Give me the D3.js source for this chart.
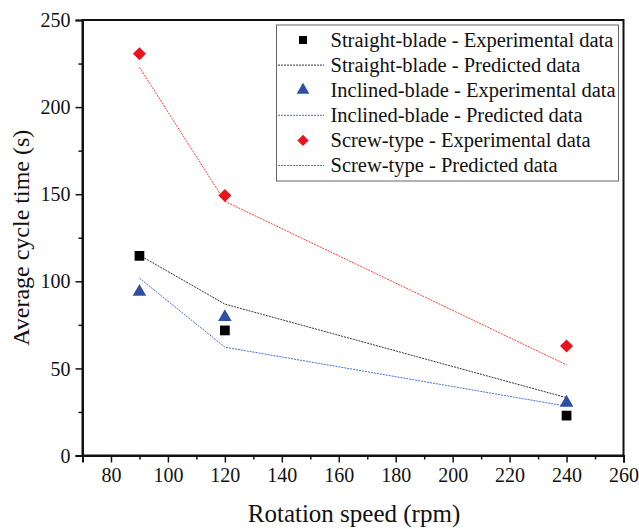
<!DOCTYPE html>
<html>
<head>
<meta charset="utf-8">
<script src="https://cdn.jsdelivr.net/npm/d3@7"></script>
</head>
<body style="margin:0">
<svg id="chart" width="639" height="529"></svg>
<script>
// Rotation speeds (rpm)
const speeds = [90, 120, 240];

// Average cycle time (s) per mixer type
const straightExp  = [114.6, 71.8, 22.9];
const straightPred = [115.0, 86.9, 33.2];
const inclinedExp  = [94.0, 79.4, 30.3];
const inclinedPred = [101.8, 62.2, 28.3];
const screwExp     = [230.6, 149.3, 62.8];
const screwPred    = [222.9, 145.9, 52.0];

// Axis ticks
const xTicks = [80, 100, 120, 140, 160, 180, 200, 220, 240, 260];
const xMinor = [70, 90, 110, 130, 150, 170, 190, 210, 230, 250];
const yTicks = [0, 50, 100, 150, 200, 250];
const yMinor = [25, 75, 125, 175, 225];

const legendLabels = [
  "Straight-blade - Experimental data",
  "Straight-blade - Predicted data",
  "Inclined-blade - Experimental data",
  "Inclined-blade - Predicted data",
  "Screw-type - Experimental data",
  "Screw-type - Predicted data"
];

const FONT = "\"Liberation Serif\", \"Times New Roman\", serif";
const INK = "#111";

const svg = d3.select("#chart");
const plotL = 82.5, plotR = 623.5, plotT = 20, plotB = 455.5;

const x = d3.scaleLinear().domain([70, 260]).range([plotL, plotR]);
const y = d3.scaleLinear().domain([0, 250]).range([plotB, plotT]);

// Frame
svg.append("rect")
  .attr("x", plotL).attr("y", plotT)
  .attr("width", plotR - plotL).attr("height", plotB - plotT)
  .attr("fill", "none").attr("stroke", INK).attr("stroke-width", 2);

// Bottom axis: labelled major ticks plus short minor ticks
const xAxis = svg.append("g").attr("transform", `translate(0,${plotB})`)
  .call(d3.axisBottom(x).tickValues(xTicks).tickSize(7).tickPadding(5).tickFormat(d3.format("d")));
svg.append("g").attr("transform", `translate(0,${plotB})`)
  .call(d3.axisBottom(x).tickValues(xMinor).tickSize(4).tickFormat(""))
  .call(g => g.select(".domain").remove());

// Left axis
const yAxis = svg.append("g").attr("transform", `translate(${plotL},0)`)
  .call(d3.axisLeft(y).tickValues(yTicks).tickSize(7).tickPadding(5).tickFormat(d3.format("d")));
svg.append("g").attr("transform", `translate(${plotL},0)`)
  .call(d3.axisLeft(y).tickValues(yMinor).tickSize(4).tickFormat(""))
  .call(g => g.select(".domain").remove());

svg.selectAll(".domain").attr("stroke", INK).attr("stroke-width", 2);
svg.selectAll(".tick line").attr("stroke", INK).attr("stroke-width", 1.5);
xAxis.selectAll(".tick text")
  .style("font-family", FONT).style("font-size", "20px").attr("fill", INK);
yAxis.selectAll(".tick text")
  .style("font-family", FONT).style("font-size", "20px").attr("fill", INK).attr("dy", "0.33em");

// Axis titles
svg.append("text")
  .attr("x", (plotL + plotR) / 2 + 1).attr("y", 522)
  .attr("text-anchor", "middle")
  .style("font-family", FONT).style("font-size", "25px").attr("fill", INK)
  .text("Rotation speed (rpm)");
svg.append("text")
  .attr("transform", `translate(28.5,${(plotT + plotB) / 2}) rotate(-90)`)
  .attr("text-anchor", "middle")
  .style("font-family", FONT).style("font-size", "24px").attr("fill", INK)
  .text("Average cycle time (s)");

// Predicted lines (thin dotted)
const line = d3.line().x((d, i) => x(speeds[i])).y(d => y(d));
const predSeries = [
  { data: straightPred, color: "#333333" },
  { data: inclinedPred, color: "#4a6fd0" },
  { data: screwPred,    color: "#ff3b3b" }
];
svg.append("g").selectAll("path").data(predSeries).join("path")
  .attr("d", d => line(d.data))
  .attr("fill", "none")
  .attr("stroke", d => d.color)
  .attr("stroke-width", 1)
  .attr("stroke-dasharray", "2,1");

// Experimental markers
const sqSym = d3.symbol().type(d3.symbolSquare).size(95);
const triSym = d3.symbol().type(d3.symbolTriangle).size(80);
const diaSym = d3.symbol().type(d3.symbolSquare).size(85);

const marks = svg.append("g");
marks.selectAll(".sq").data(straightExp).join("path")
  .attr("class", "sq")
  .attr("d", sqSym)
  .attr("transform", (d, i) => `translate(${x(speeds[i])},${y(d)})`)
  .attr("fill", "#000");
marks.selectAll(".tri").data(inclinedExp).join("path")
  .attr("class", "tri")
  .attr("d", triSym)
  .attr("transform", (d, i) => `translate(${x(speeds[i])},${y(d)})`)
  .attr("fill", "#2e4fa6");
marks.selectAll(".dia").data(screwExp).join("path")
  .attr("class", "dia")
  .attr("d", diaSym)
  .attr("transform", (d, i) => `translate(${x(speeds[i])},${y(d)}) rotate(45)`)
  .attr("fill", "#e8141b");

// Legend
const lg = svg.append("g");
lg.append("rect")
  .attr("x", 276.5).attr("y", 25).attr("width", 342).attr("height", 156)
  .attr("fill", "#fff").attr("stroke", "#666").attr("stroke-width", 1);

const legendKeys = [
  { kind: "mark", sym: d3.symbol().type(d3.symbolSquare).size(64), color: "#000", rot: 0 },
  { kind: "line", color: "#333333" },
  { kind: "mark", sym: d3.symbol().type(d3.symbolTriangle).size(70), color: "#2e4fa6", rot: 0 },
  { kind: "line", color: "#4a6fd0" },
  { kind: "mark", sym: d3.symbol().type(d3.symbolSquare).size(64), color: "#e8141b", rot: 45 },
  { kind: "line", color: "#ff3b3b" }
];
legendLabels.forEach((label, i) => {
  const cy = 40 + i * 25.1;
  const k = legendKeys[i];
  if (k.kind === "mark") {
    lg.append("path")
      .attr("d", k.sym())
      .attr("transform", `translate(303,${cy}) rotate(${k.rot})`)
      .attr("fill", k.color);
  } else {
    lg.append("line")
      .attr("x1", 278).attr("x2", 324).attr("y1", cy).attr("y2", cy)
      .attr("stroke", k.color).attr("stroke-width", 1).attr("stroke-dasharray", "2,1");
  }
  lg.append("text")
    .attr("x", 330.5).attr("y", cy).attr("dy", "0.33em")
    .style("font-family", FONT).style("font-size", "20.5px").attr("fill", INK)
    .text(label);
});
</script>
</body>
</html>
